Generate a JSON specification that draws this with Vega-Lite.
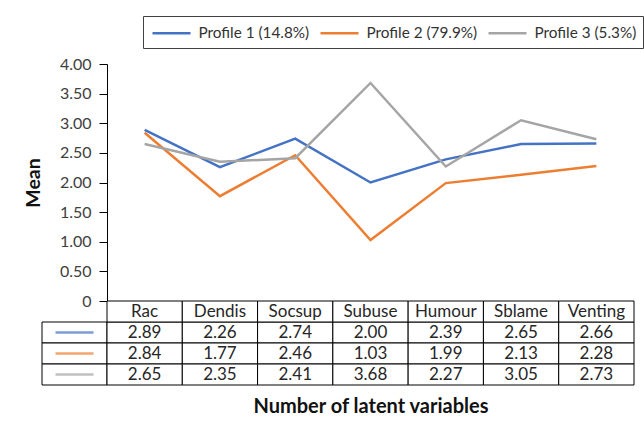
{
  "$schema": "https://vega.github.io/schema/vega-lite/v6.json",
  "autosize": {"type": "pad"},
  "padding": {"left": 23, "top": 15, "right": 0, "bottom": 5},
  "background": "white",
  "config": {
    "view": {"stroke": null},
    "font": "Lato",
    "text": {"font": "Lato"}
  },
  "datasets": {
    "d": [
      {"profile": "Profile 1 (14.8%)", "variable": "Rac", "mean": 2.89},
      {"profile": "Profile 1 (14.8%)", "variable": "Dendis", "mean": 2.26},
      {"profile": "Profile 1 (14.8%)", "variable": "Socsup", "mean": 2.74},
      {"profile": "Profile 1 (14.8%)", "variable": "Subuse", "mean": 2.00},
      {"profile": "Profile 1 (14.8%)", "variable": "Humour", "mean": 2.39},
      {"profile": "Profile 1 (14.8%)", "variable": "Sblame", "mean": 2.65},
      {"profile": "Profile 1 (14.8%)", "variable": "Venting", "mean": 2.66},
      {"profile": "Profile 2 (79.9%)", "variable": "Rac", "mean": 2.84},
      {"profile": "Profile 2 (79.9%)", "variable": "Dendis", "mean": 1.77},
      {"profile": "Profile 2 (79.9%)", "variable": "Socsup", "mean": 2.46},
      {"profile": "Profile 2 (79.9%)", "variable": "Subuse", "mean": 1.03},
      {"profile": "Profile 2 (79.9%)", "variable": "Humour", "mean": 1.99},
      {"profile": "Profile 2 (79.9%)", "variable": "Sblame", "mean": 2.13},
      {"profile": "Profile 2 (79.9%)", "variable": "Venting", "mean": 2.28},
      {"profile": "Profile 3 (5.3%)", "variable": "Rac", "mean": 2.65},
      {"profile": "Profile 3 (5.3%)", "variable": "Dendis", "mean": 2.35},
      {"profile": "Profile 3 (5.3%)", "variable": "Socsup", "mean": 2.41},
      {"profile": "Profile 3 (5.3%)", "variable": "Subuse", "mean": 3.68},
      {"profile": "Profile 3 (5.3%)", "variable": "Humour", "mean": 2.27},
      {"profile": "Profile 3 (5.3%)", "variable": "Sblame", "mean": 3.05},
      {"profile": "Profile 3 (5.3%)", "variable": "Venting", "mean": 2.73}
    ]
  },
  "columns": 2,
  "align": "each",
  "bounds": "flush",
  "spacing": 0,
  "resolve": {
    "scale": {"color": "independent", "x": "independent", "y": "independent"},
    "legend": {"color": "independent"}
  },
  "concat": [
    {
      "width": 65,
      "height": 237,
      "data": {"values": []},
      "mark": "point"
    },
    {
      "width": 527,
      "height": 237,
      "data": {"name": "d"},
      "mark": {"type": "line", "strokeWidth": 2.5},
      "encoding": {
        "x": {
          "field": "variable", "type": "nominal", "sort": null,
          "scale": {"type": "point", "padding": 0.5},
          "axis": null
        },
        "y": {
          "field": "mean", "type": "quantitative",
          "scale": {"domain": [0, 4], "nice": false},
          "axis": {
            "values": [0, 0.5, 1, 1.5, 2, 2.5, 3, 3.5, 4],
            "labelExpr": "datum.value === 0 ? '0' : format(datum.value, '.2f')",
            "grid": false,
            "tickSize": 8,
            "labelPadding": 8,
            "labelFontSize": 16,
            "labelColor": "#404040",
            "domainColor": "#000000",
            "tickColor": "#000000",
            "title": "Mean",
            "titleFontSize": 19.5,
            "titleFontWeight": "bold",
            "titleColor": "#111111",
            "titlePadding": 16
          }
        },
        "color": {
          "field": "profile", "type": "nominal",
          "scale": {
            "domain": ["Profile 1 (14.8%)", "Profile 2 (79.9%)", "Profile 3 (5.3%)"],
            "range": ["#4472C4", "#ED7D31", "#A5A5A5"]
          },
          "legend": {
            "orient": "none",
            "legendX": 36,
            "legendY": -48,
            "direction": "horizontal",
            "title": null,
            "strokeColor": "#404040",
            "fillColor": "white",
            "padding": 6,
            "symbolType": "M-2,0H2",
            "symbolSize": 361,
            "symbolStrokeWidth": 2.5,
            "symbolOffset": 11.5,
            "labelFontSize": 15.3,
            "labelColor": "#333333",
            "labelOffset": 16,
            "columnPadding": 5
          }
        }
      }
    },
    {
      "width": 65,
      "height": 84,
      "data": {"name": "d"},
      "transform": [{"filter": "datum.variable === 'Rac'"}],
      "layer": [
        {
          "mark": {"type": "rect", "fill": "white", "stroke": "#000000", "strokeWidth": 1},
          "encoding": {
            "y": {
              "field": "profile", "type": "nominal",
              "scale": {"domain": ["hdr", "Profile 1 (14.8%)", "Profile 2 (79.9%)", "Profile 3 (5.3%)"], "paddingInner": 0, "paddingOuter": 0},
              "axis": null
            }
          }
        },
        {
          "mark": {"type": "tick", "orient": "horizontal", "size": 38, "thickness": 2.5},
          "encoding": {
            "y": {
              "field": "profile", "type": "nominal",
              "scale": {"domain": ["hdr", "Profile 1 (14.8%)", "Profile 2 (79.9%)", "Profile 3 (5.3%)"], "paddingInner": 0, "paddingOuter": 0},
              "axis": null
            },
            "color": {
              "field": "profile", "type": "nominal",
              "scale": {
                "domain": ["Profile 1 (14.8%)", "Profile 2 (79.9%)", "Profile 3 (5.3%)"],
                "range": ["#4472C4", "#ED7D31", "#A5A5A5"]
              },
              "legend": null
            }
          }
        }
      ]
    },
    {
      "width": 527,
      "height": 84,
      "data": {"name": "d"},
      "encoding": {
        "x": {
          "field": "variable", "type": "nominal", "sort": null,
          "scale": {"paddingInner": 0, "paddingOuter": 0},
          "axis": {
            "labels": false, "ticks": false, "domain": false,
            "title": "Number of latent variables",
            "titleFontSize": 20,
            "titleFontWeight": "bold",
            "titleColor": "#111111",
            "titlePadding": 11
          }
        }
      },
      "layer": [
        {
          "mark": {"type": "rect", "fill": "white", "stroke": "#000000", "strokeWidth": 1},
          "encoding": {
            "y": {
              "field": "profile", "type": "nominal",
              "scale": {"domain": ["hdr", "Profile 1 (14.8%)", "Profile 2 (79.9%)", "Profile 3 (5.3%)"], "paddingInner": 0, "paddingOuter": 0},
              "axis": null
            }
          }
        },
        {
          "mark": {"type": "text", "fontSize": 17, "color": "#262626"},
          "encoding": {
            "y": {
              "field": "profile", "type": "nominal",
              "scale": {"domain": ["hdr", "Profile 1 (14.8%)", "Profile 2 (79.9%)", "Profile 3 (5.3%)"], "paddingInner": 0, "paddingOuter": 0},
              "axis": null
            },
            "text": {"field": "mean", "type": "quantitative", "format": ".2f"}
          }
        },
        {
          "transform": [{"filter": "datum.profile === 'Profile 1 (14.8%)'"}],
          "mark": {"type": "rect", "fill": "white", "stroke": "#000000", "strokeWidth": 1},
          "encoding": {
            "y": {
              "datum": "hdr", "type": "nominal",
              "scale": {"domain": ["hdr", "Profile 1 (14.8%)", "Profile 2 (79.9%)", "Profile 3 (5.3%)"], "paddingInner": 0, "paddingOuter": 0},
              "axis": null
            }
          }
        },
        {
          "transform": [{"filter": "datum.profile === 'Profile 1 (14.8%)'"}],
          "mark": {"type": "text", "fontSize": 17, "color": "#262626"},
          "encoding": {
            "y": {
              "datum": "hdr", "type": "nominal",
              "scale": {"domain": ["hdr", "Profile 1 (14.8%)", "Profile 2 (79.9%)", "Profile 3 (5.3%)"], "paddingInner": 0, "paddingOuter": 0},
              "axis": null
            },
            "text": {"field": "variable", "type": "nominal"}
          }
        }
      ]
    }
  ]
}
